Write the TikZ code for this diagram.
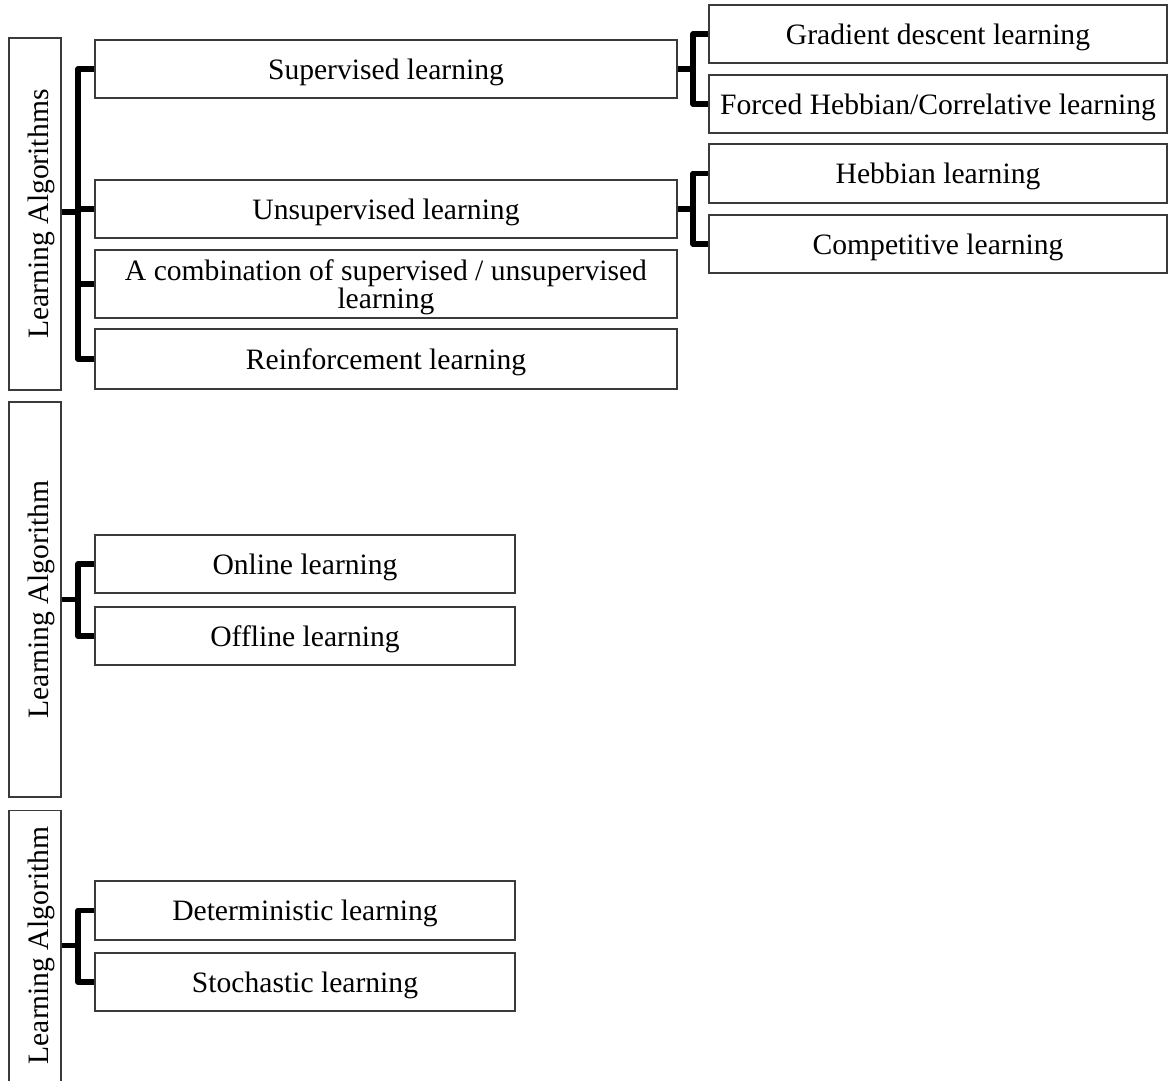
\documentclass[tikz,border=0pt]{standalone}
\usepackage{fontspec}
\setmainfont{Liberation Serif}
\begin{document}
\begin{tikzpicture}[x=1pt,y={(0,-1pt)},
  labelfont/.style={font=\fontsize{29.6}{28.5}\selectfont},
  box/.style={draw=boxgray, line width=1.1pt, rectangle, inner sep=0pt,
    align=center, text depth=0pt, labelfont},
  sidetext/.style={rotate=90, inner sep=0pt, text depth=0pt, labelfont},
  bracket/.style={line width=5.5pt, line join=round, line cap=butt}]
\definecolor{boxgray}{HTML}{3A3A3A}
\useasboundingbox (0,0) rectangle (1168,1080);
\clip (0,0) rectangle (1168,1080);

% category boxes on the left, text running bottom to top
\node[box, minimum width=52pt, minimum height=352pt] (la1) at (35,214) {};
\node[sidetext] (la1t) at ([xshift=3pt]la1.center) {Learning Algorithms};
\node[box, minimum width=52pt, minimum height=395pt] (la2) at (35,599.5) {};
\node[sidetext] (la2t) at ([xshift=3pt]la2.center) {Learning Algorithm};
\node[box, minimum width=52pt, minimum height=276pt] (la3) at (35,948.5) {};
\coordinate (la3mid) at (35,945.5);
\node[sidetext] (la3t) at ([xshift=3pt]la3mid) {Learning Algorithm};

% first group
\node[box, minimum width=582pt, minimum height=58pt] (sup)   at (386,69)  {Supervised learning};
\node[box, minimum width=582pt, minimum height=58pt] (uns)   at (386,209) {Unsupervised learning};
\node[box, minimum width=582pt, minimum height=68pt] (comb)  at (386,284) {A combination of supervised / unsupervised\\learning};
\node[box, minimum width=582pt, minimum height=60pt] (reinf) at (386,359) {Reinforcement learning};

\node[box, minimum width=458pt, minimum height=58pt] (grad)   at (938,34)    {Gradient descent learning};
\node[box, minimum width=458pt, minimum height=58pt] (forced) at (938,104)   {Forced Hebbian/Correlative learning};
\node[box, minimum width=458pt, minimum height=59pt] (hebb)   at (938,173.5) {Hebbian learning};
\node[box, minimum width=458pt, minimum height=58pt] (comp)   at (938,244)   {Competitive learning};

% second group
\node[box, minimum width=420pt, minimum height=58pt] (online)  at (305,564) {Online learning};
\node[box, minimum width=420pt, minimum height=58pt] (offline) at (305,636) {Offline learning};

% third group
\node[box, minimum width=420pt, minimum height=59pt] (det) at (305,910.5) {Deterministic learning};
\node[box, minimum width=420pt, minimum height=58pt] (sto) at (305,982)   {Stochastic learning};

% brackets
\coordinate (s1) at (78,0);
\draw[bracket] (sup.west) -| (s1 |- reinf.west) -- (reinf.west);
\draw[bracket] (uns.west) -- (uns.west -| s1);
\draw[bracket] (comb.west) -- (comb.west -| s1);
\draw[bracket] ([yshift=2pt]la1.east) -- ([yshift=2pt]la1.east -| s1);

\coordinate (s2) at (693,0);
\draw[bracket] (grad.west) -| (s2 |- forced.west) -- (forced.west);
\draw[bracket] (sup.east) -- (sup.east -| s2);
\draw[bracket] (hebb.west) -| (s2 |- comp.west) -- (comp.west);
\draw[bracket] (uns.east) -- (uns.east -| s2);

\draw[bracket] (online.west) -| (s1 |- offline.west) -- (offline.west);
\draw[bracket] (la2.east) -- (la2.east -| s1);

\draw[bracket] (det.west) -| (s1 |- sto.west) -- (sto.west);
\draw[bracket] (la3.east |- la3mid) -- (s1 |- la3mid);
\end{tikzpicture}
\end{document}
